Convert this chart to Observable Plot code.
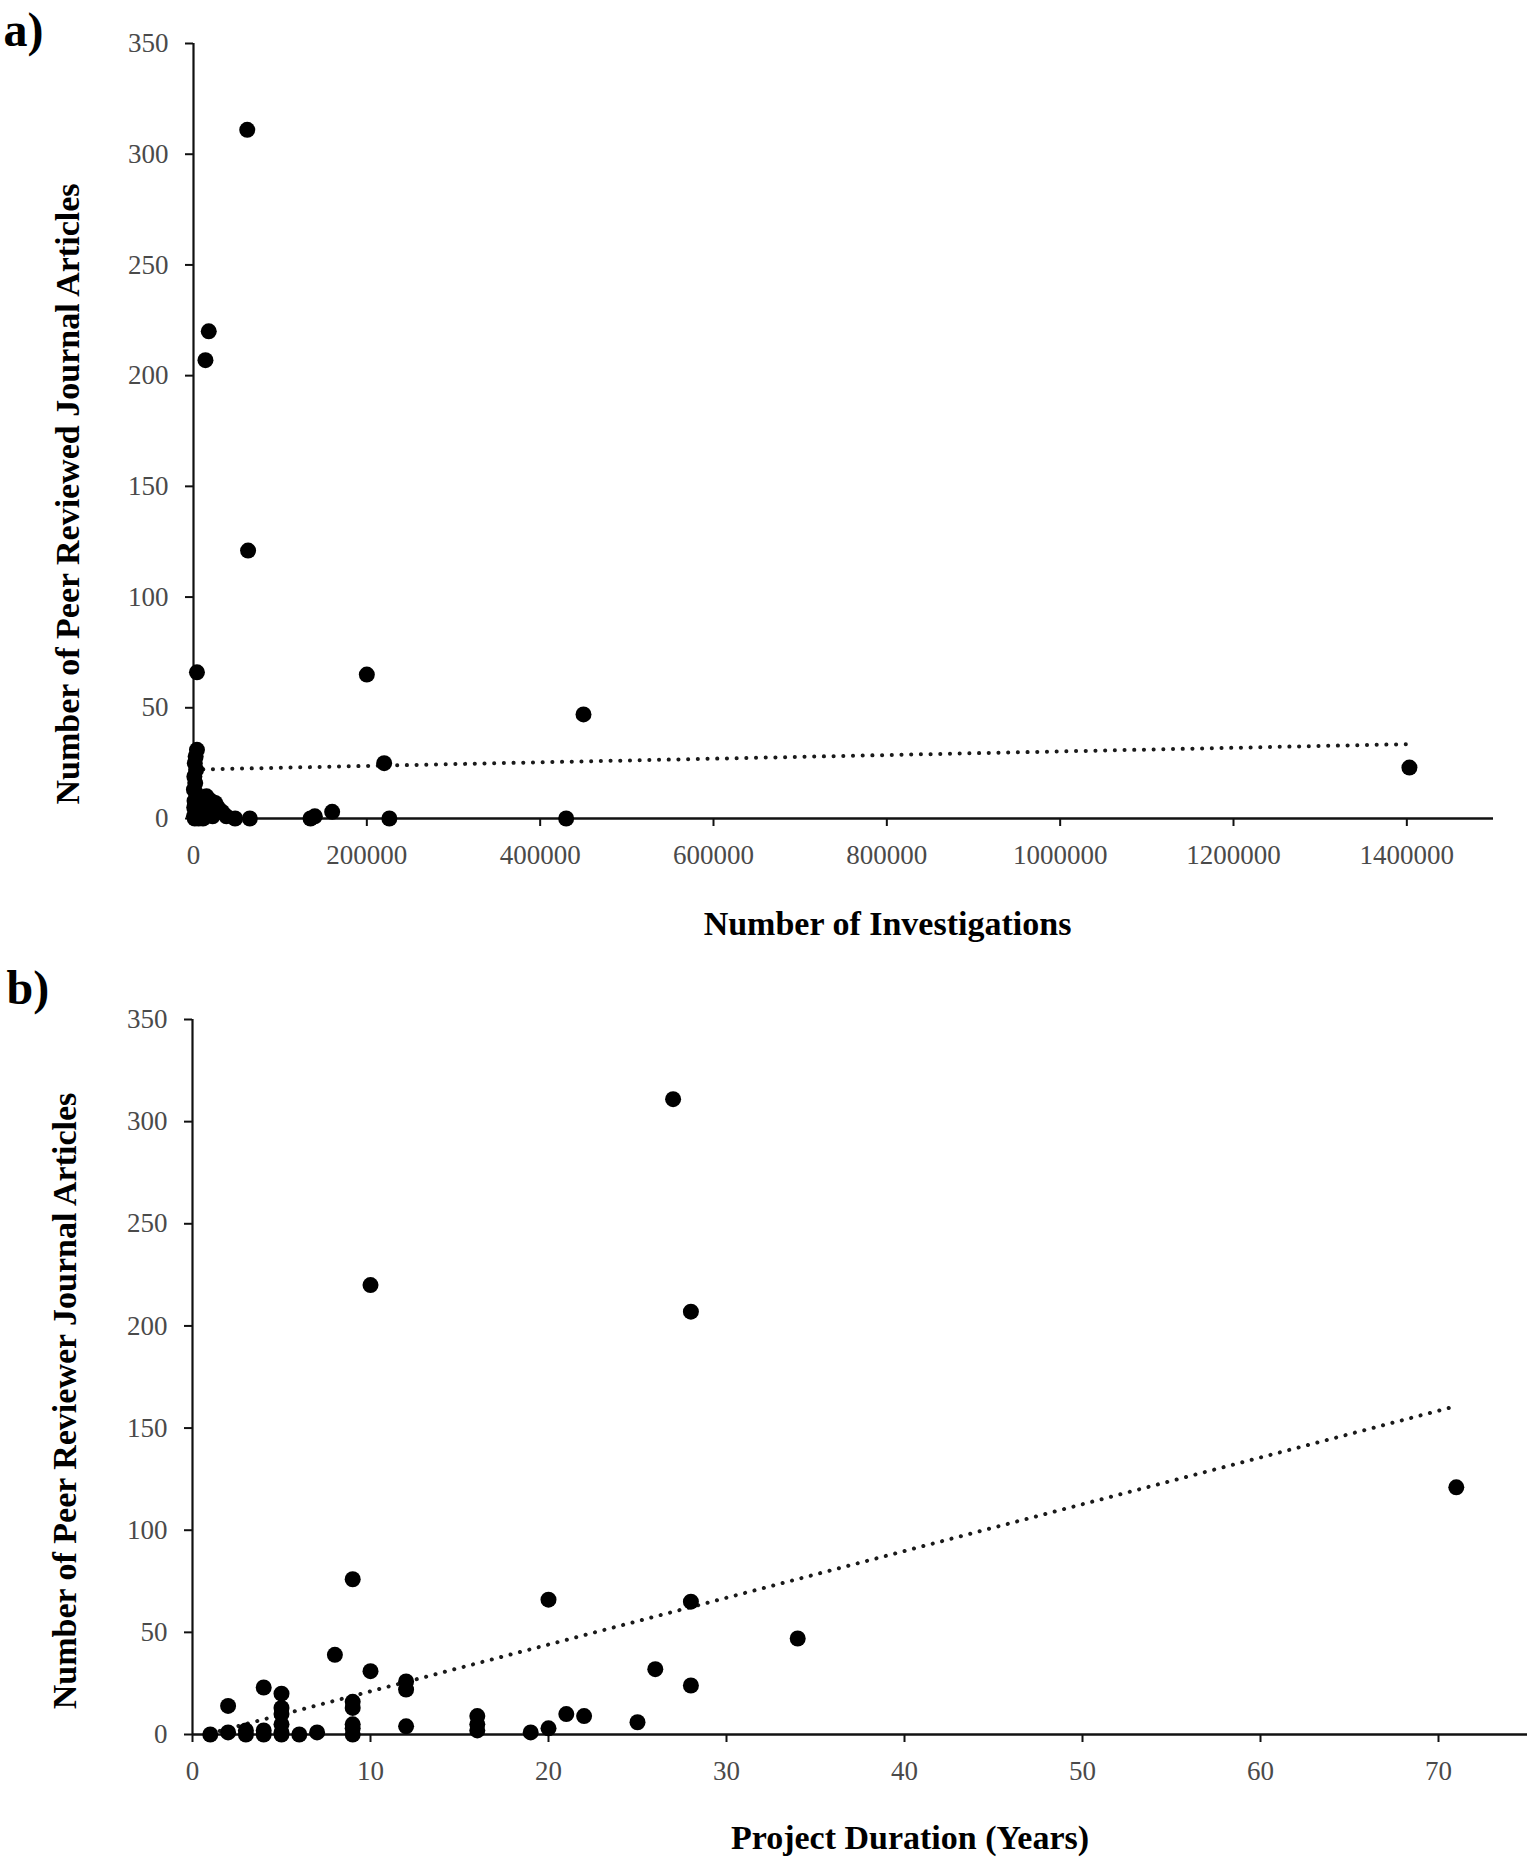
<!DOCTYPE html>
<html>
<head>
<meta charset="utf-8">
<script src="https://cdn.jsdelivr.net/npm/d3@7"></script>
<script src="https://cdn.jsdelivr.net/npm/@observablehq/plot@0.6"></script>
<style>
  html, body { margin: 0; padding: 0; background: #ffffff; }
  #chart { width: 1531px; }
  #chart svg { display: block; }
</style>
</head>
<body>
<div id="chart"></div>
<script>
// ---------- Panel a: investigations vs articles ----------
const investigationsA = [62000, 17600, 13800, 63000, 4000, 200000, 450000, 220000, 1403000, 430000, 226000, 160000, 135000, 140000, 65000, 48000, 38000,
  4000, 2500, 1500, 3000, 1000, 2000, 500, 3500, 1200, 800, 2500, 500, 1500, 6000, 9000, 8000, 12000, 15000, 20000, 25000, 18000, 28000, 33000, 11000, 22000];
const articlesA = [311, 220, 207, 121, 66, 65, 47, 25, 23, 0, 0, 3, 0, 1, 0, 0, 1,
  31, 28, 25, 22, 19, 16, 13, 11, 8, 5, 3, 1, 0, 0, 2, 9, 6, 10, 8, 7, 3, 5, 3, 0, 1];
const trendAx = [0, 1403000];
const trendAy = [22.1, 33.6];
const xTicksA = [0, 200000, 400000, 600000, 800000, 1000000, 1200000, 1400000];

// ---------- Panel b: duration vs articles ----------
const durationB = [1, 2, 2, 3, 3, 4, 4, 4, 5, 5, 5, 5, 5, 5, 6, 7, 8, 9, 9, 9, 9, 9, 9, 10, 10, 12, 12, 12, 16, 16, 16, 19, 20, 20, 21, 22, 25, 26, 27, 28, 28, 28, 34, 71];
const articlesB = [0, 1, 14, 0, 2, 0, 2, 23, 0, 1, 5, 10, 13, 20, 0, 1, 39, 0, 3, 5, 13, 16, 76, 31, 220, 4, 22, 26, 2, 5, 9, 1, 3, 66, 10, 9, 6, 32, 311, 24, 65, 207, 47, 121];
const trendBx = [1, 71];
const trendBy = [0.54, 160.8];
const xTicksB = [0, 10, 20, 30, 40, 50, 60, 70];

const yTicks = [0, 50, 100, 150, 200, 250, 300, 350];

const FONT = '"Liberation Serif", "Times New Roman", serif';
const TICK_COLOR = "#4a4a4a";

const dataA = investigationsA.map((x, i) => ({x, y: articlesA[i]}));
const trendA = trendAx.map((x, i) => ({x, y: trendAy[i]}));
const dataB = durationB.map((x, i) => ({x, y: articlesB[i]}));
const trendB = trendBx.map((x, i) => ({x, y: trendBy[i]}));

function panel({data, trend, xDomain, xTicks, width, height, margins, xTitle, yTitle, tag, xTitleDx, xTitleDy, yTitleDx, yTitleDy, tagDx, tagDy}) {
  return Plot.plot({
    width, height,
    marginLeft: margins[0], marginRight: margins[1], marginTop: margins[2], marginBottom: margins[3],
    style: {fontFamily: FONT, background: "#ffffff", overflow: "visible"},
    x: {domain: xDomain},
    y: {domain: [0, 350]},
    marks: [
      Plot.axisY({ticks: yTicks, tickSize: 8, tickPadding: 17, fontSize: 27, fill: TICK_COLOR, stroke: "#111", strokeWidth: 2, label: null, fontFamily: FONT}),
      Plot.axisX({ticks: xTicks, tickSize: 8, tickPadding: 18, fontSize: 27, fill: TICK_COLOR, stroke: "#111", strokeWidth: 2, label: null, tickFormat: d3.format("d"), fontFamily: FONT}),
      Plot.ruleX([xDomain[0]], {stroke: "#111", strokeWidth: 2.2}),
      Plot.ruleY([0], {stroke: "#111", strokeWidth: 2.6}),
      Plot.line(trend, {x: "x", y: "y", stroke: "#1a1a1a", strokeWidth: 4, strokeDasharray: "0.1 9.6", strokeLinecap: "round"}),
      Plot.dot(data, {x: "x", y: "y", r: 8, fill: "#000", stroke: "none"}),
      Plot.text([xTitle], {text: d => d, frameAnchor: "bottom", dx: xTitleDx, dy: xTitleDy, fontSize: 34, fontWeight: "bold", fill: "#000", textAnchor: "middle", lineAnchor: "middle", fontFamily: FONT}),
      Plot.text([yTitle], {text: d => d, frameAnchor: "left", dx: yTitleDx, dy: yTitleDy, rotate: -90, fontSize: 34, fontWeight: "bold", fill: "#000", textAnchor: "middle", lineAnchor: "middle", fontFamily: FONT}),
      Plot.text([tag], {text: d => d, frameAnchor: "top-left", dx: tagDx, dy: tagDy, fontSize: 48, fontWeight: "bold", fill: "#000", textAnchor: "start", lineAnchor: "bottom", fontFamily: FONT})
    ]
  });
}

const chart = document.getElementById("chart");

chart.append(panel({
  data: dataA, trend: trendA, xDomain: [0, 1500000], xTicks: xTicksA,
  width: 1531, height: 960, margins: [193, 38, 43, 142],
  xTitle: "Number of Investigations",
  yTitle: "Number of Peer Reviewed Journal Articles",
  tag: "a)",
  xTitleDx: 44, xTitleDy: 106, yTitleDx: -125, yTitleDy: 63, tagDx: -190, tagDy: 2
}));

chart.append(panel({
  data: dataB, trend: trendB, xDomain: [0, 75], xTicks: xTicksB,
  width: 1531, height: 902, margins: [192, 4, 59, 128],
  xTitle: "Project Duration (Years)",
  yTitle: "Number of Peer Reviewer Journal Articles",
  tag: "b)",
  xTitleDx: 50, xTitleDy: 104, yTitleDx: -127, yTitleDy: 24, tagDx: -186, tagDy: -16
}));
</script>
</body>
</html>
